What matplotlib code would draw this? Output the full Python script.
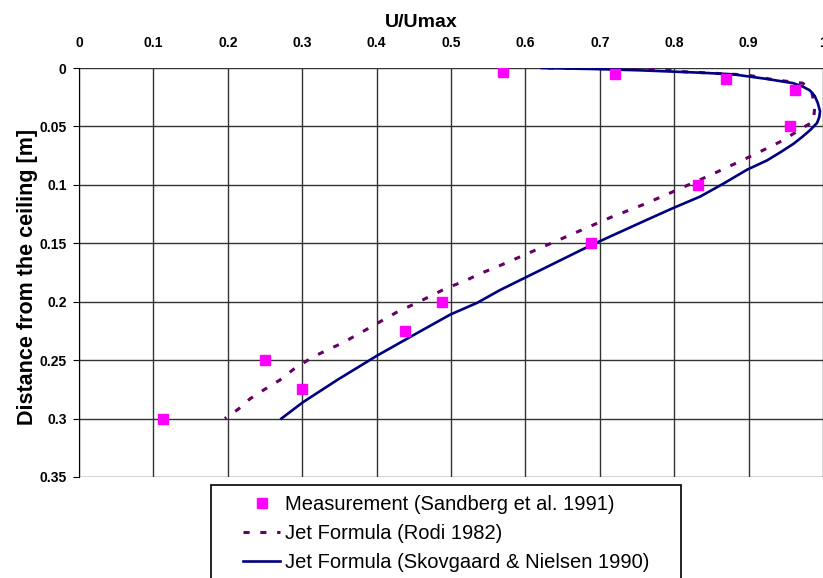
import matplotlib
matplotlib.use('Agg')
import matplotlib.pyplot as plt
from matplotlib.patches import Rectangle

plt.rcParams['font.family'] = ['Liberation Sans', 'DejaVu Sans']

# measurement (Sandberg et al. 1991)
meas_u = [0.57, 0.72, 0.87, 0.963, 0.956, 0.832, 0.688, 0.488, 0.438, 0.25, 0.30, 0.113]
meas_y = [0.003, 0.005, 0.009, 0.019, 0.05, 0.1, 0.15, 0.2, 0.225, 0.25, 0.275, 0.3]

# jet formula (Rodi 1982)
rodi_u = [0.63, 0.70, 0.781, 0.808, 0.898, 0.933, 0.973, 0.985, 0.989, 0.987, 0.973,
          0.946, 0.911, 0.888, 0.844, 0.798, 0.758, 0.714, 0.566, 0.539, 0.516,
          0.495, 0.454, 0.427, 0.394, 0.355, 0.315, 0.288, 0.270, 0.247, 0.230,
          0.214, 0.196]
rodi_y = [0.0, 0.0005, 0.001, 0.003, 0.006, 0.010, 0.013, 0.021, 0.033, 0.046, 0.051,
          0.062, 0.073, 0.080, 0.093, 0.106, 0.117, 0.128, 0.169, 0.176, 0.183,
          0.188, 0.201, 0.209, 0.221, 0.235, 0.247, 0.258, 0.267, 0.276, 0.283,
          0.292, 0.300]

# jet formula (Skovgaard & Nielsen 1990)
skov_u = [0.622, 0.700, 0.754, 0.835, 0.879, 0.925, 0.960, 0.973, 0.982, 0.989, 0.993,
          0.996, 0.995, 0.992, 0.983, 0.972, 0.960, 0.943, 0.925, 0.898, 0.866, 0.835,
          0.798, 0.763, 0.687, 0.566, 0.535, 0.499, 0.454, 0.401, 0.347, 0.301, 0.272]
skov_y = [0.0, 0.001, 0.002, 0.004, 0.0054, 0.0094, 0.013, 0.016, 0.019, 0.024, 0.030,
          0.037, 0.042, 0.047, 0.053, 0.059, 0.065, 0.072, 0.079, 0.087, 0.099, 0.110,
          0.120, 0.130, 0.152, 0.190, 0.201, 0.211, 0.227, 0.246, 0.267, 0.286, 0.300]

W, H = 823, 578
fig = plt.figure(figsize=(W / 100, H / 100), dpi=100)
ax = fig.add_axes([79 / W, 1 - 477 / H, (W - 79) / W, (477 - 68) / H])

ax.plot(rodi_u, rodi_y, color='#660066', lw=2.2, linestyle=(0, (2, 3.5)),
        label='Jet Formula (Rodi 1982)', zorder=3)
ax.plot(skov_u, skov_y, color='#000080', lw=1.9,
        label='Jet Formula (Skovgaard & Nielsen 1990)', zorder=4)
ax.plot(meas_u, meas_y, 's', color='#ff00ff', markersize=7, linestyle='none',
        label='Measurement (Sandberg et al. 1991)', zorder=5)

ax.set_xlim(0, 1)
ax.set_ylim(0.35, 0)
ax.set_xticks([i / 10 for i in range(11)])
ax.set_xticklabels(['0', '0.1', '0.2', '0.3', '0.4', '0.5', '0.6', '0.7', '0.8', '0.9', '1'])
ax.set_yticks([i * 0.05 for i in range(8)])
ax.set_yticklabels(['0', '0.05', '0.1', '0.15', '0.2', '0.25', '0.3', '0.35'])
ax.xaxis.tick_top()
ax.xaxis.set_label_position('top')
ax.tick_params(axis='x', length=0, pad=13, labelsize=10)
ax.tick_params(axis='y', length=4, pad=5, labelsize=10, direction='out')
for lab in ax.get_xticklabels() + ax.get_yticklabels():
    lab.set_fontweight('bold')

ax.grid(True, color='#333333', lw=1.0)
ax.set_axisbelow(True)
for s in ['top', 'right', 'bottom']:
    ax.spines[s].set_visible(False)
ax.spines['left'].set_color('black')

ax.set_xlabel('U/Umax', fontsize=14, fontweight='bold')
ax.xaxis.set_label_coords(0.4597, 1.100)
ax.set_ylabel('Distance from the ceiling [m]', fontsize=15.5, fontweight='bold')
ax.yaxis.set_label_coords(-0.055, 0.488)

# legend box, cut off by the bottom edge like the original
box = Rectangle((211 / W, -0.05), (681 - 211) / W, (578 - 485) / H + 0.05,
                transform=fig.transFigure, facecolor='white', edgecolor='black',
                lw=1.2, clip_on=False)
fig.patches.append(box)

handles, labels = ax.get_legend_handles_labels()
order = [2, 0, 1]
fig.legend([handles[i] for i in order], [labels[i] for i in order],
           loc='upper left', bbox_to_anchor=(243 / W, 1 - 495 / H),
           frameon=False, borderpad=0, borderaxespad=0, fontsize=14.5,
           handlelength=1.85, handletextpad=0.25, labelspacing=0.5)

fig.savefig('out.png', dpi=100)
